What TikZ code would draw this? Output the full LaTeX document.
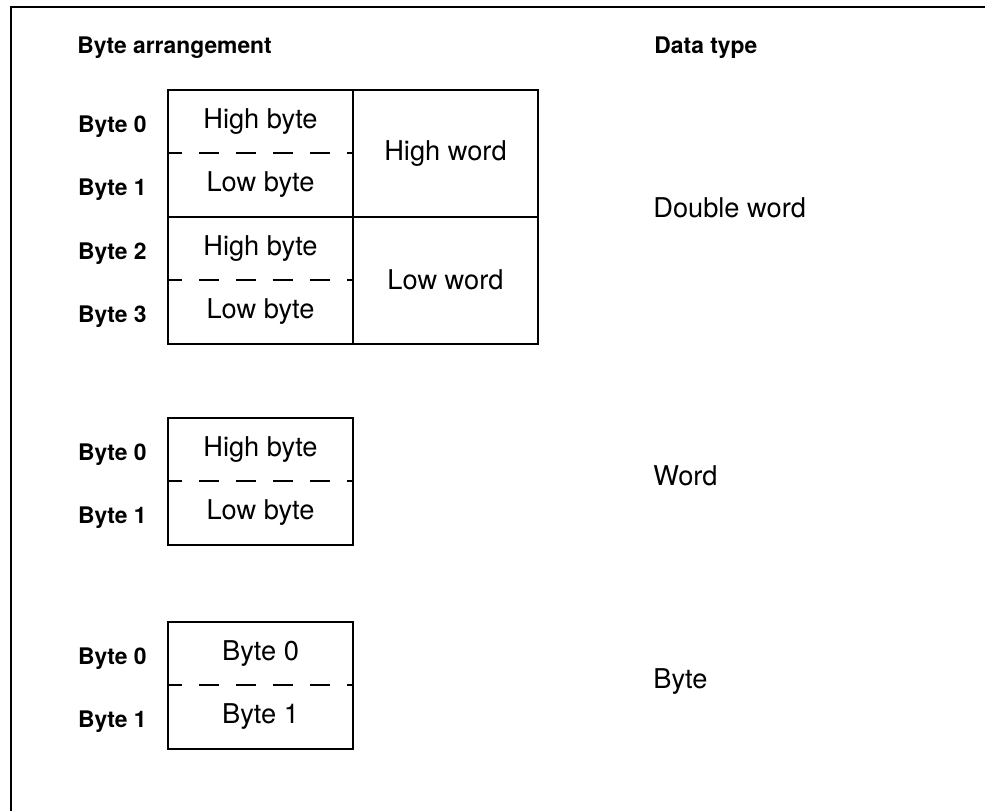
\documentclass[tikz,border=0pt]{standalone}
\usepackage{fontspec}
\setmainfont{TeX Gyre Heros}
\usetikzlibrary{positioning}

\begin{document}
\begin{tikzpicture}[x=0.02cm, y=-0.02cm,
        half/.style={minimum width=3.7cm, minimum height=1.27cm, inner sep=0pt, outer sep=0pt, font=\fontsize{15.5}{18}\selectfont},
        cell/.style={draw, line width=1.1pt, minimum width=3.7cm, minimum height=2.54cm, inner sep=0pt, outer sep=0pt, anchor=north west, font=\fontsize{15.5}{18}\selectfont},
        box/.style={line width=1.1pt},
        sep/.style={line width=1.1pt, dash pattern=on 0.4cm off 0.34cm, dash phase=0.12cm},
        lbl/.style={font=\fontsize{13}{15}\selectfont\bfseries, inner sep=0pt, left=0.42cm of #1, yshift=-0.1cm},
        head/.style={font=\fontsize{13}{15}\selectfont\bfseries, inner sep=0pt, anchor=base west},
        dtype/.style={font=\fontsize{15.5}{18}\selectfont, inner sep=0pt, anchor=base west},
        frame/.style={line width=1.5pt}
      ]
      \useasboundingbox (0,0) rectangle (985,811);
      \draw[frame] (985,7) -| (11,811);
      \node[head] (arr) at (77,54) {Byte arrangement};
      \node[head] (dt) at (654,54) {Data type};
      % double word
      \node[half] (hi0) at (260.5,121.5) {High byte};
      \node[half, below=0pt of hi0] (lo0) {Low byte};
      \node[half, below=0pt of lo0] (hi1) {High byte};
      \node[half, below=0pt of hi1] (lo1) {Low byte};
      \draw[box] (hi0.north west) rectangle (lo0.south east);
      \draw[box] (hi1.north west) rectangle (lo1.south east);
      \draw[sep] (hi0.south west) -- (hi0.south east);
      \draw[sep] (hi1.south west) -- (hi1.south east);
      \node[cell] (hw) at (hi0.north east) {High word};
      \node[cell] (lw) at (hw.south west) {Low word};
      \node[lbl=hi0] (b0) {Byte 0};
      \node[lbl=lo0] (b1) {Byte 1};
      \node[lbl=hi1] (b2) {Byte 2};
      \node[lbl=lo1] (b3) {Byte 3};
      \node[dtype] (dw) at (653,217) {Double word};
      % word
      \node[half] (hi2) at (260.5,449.5) {High byte};
      \node[half, below=0pt of hi2] (lo2) {Low byte};
      \draw[box] (hi2.north west) rectangle (lo2.south east);
      \draw[sep] (hi2.south west) -- (hi2.south east);
      \node[lbl=hi2] (w0) {Byte 0};
      \node[lbl=lo2] (w1) {Byte 1};
      \node[dtype] (wd) at (653,485) {Word};
      % byte
      \node[half] (hi3) at (260.5,653.5) {Byte 0};
      \node[half, below=0pt of hi3] (lo3) {Byte 1};
      \draw[box] (hi3.north west) rectangle (lo3.south east);
      \draw[sep] (hi3.south west) -- (hi3.south east);
      \node[lbl=hi3] (y0) {Byte 0};
      \node[lbl=lo3] (y1) {Byte 1};
      \node[dtype] (by) at (653,688) {Byte};
    \end{tikzpicture}
\end{document}
